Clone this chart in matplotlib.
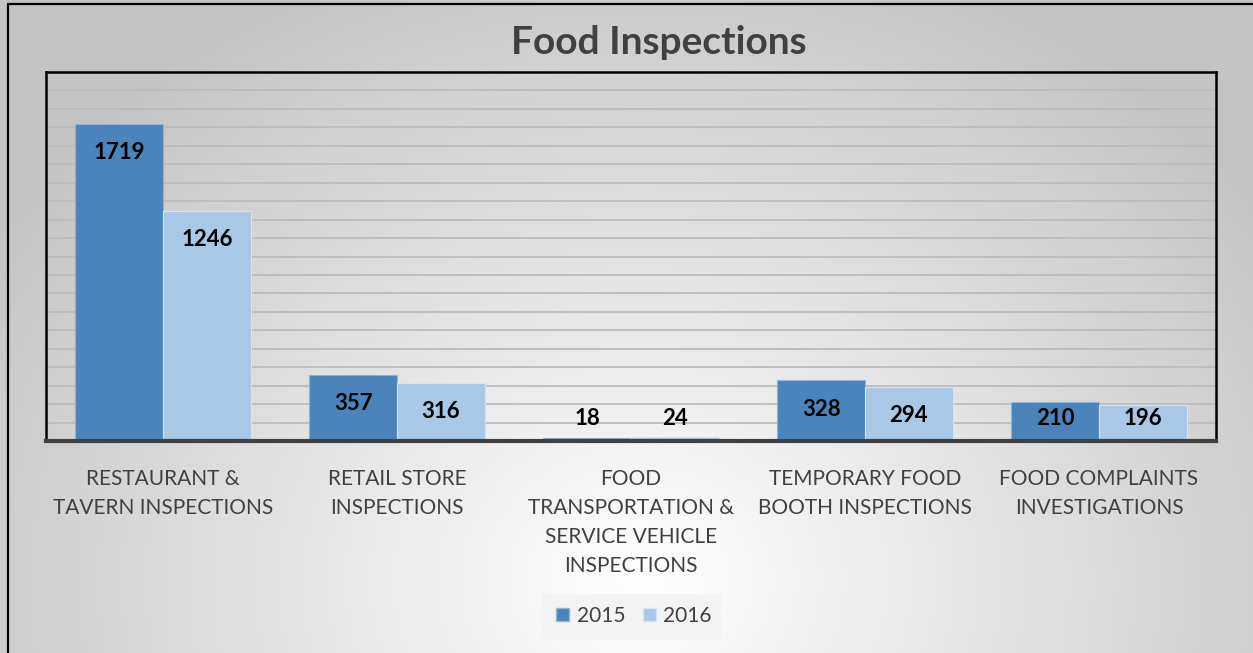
import numpy as np
import matplotlib
matplotlib.use("Agg")
import matplotlib.pyplot as plt
from matplotlib.patches import Rectangle

categories = ["RESTAURANT &\nTAVERN INSPECTIONS", "RETAIL STORE\nINSPECTIONS",
              "FOOD\nTRANSPORTATION &\nSERVICE VEHICLE\nINSPECTIONS",
              "TEMPORARY FOOD\nBOOTH INSPECTIONS", "FOOD COMPLAINTS\nINVESTIGATIONS"]
series_names = ["2015", "2016"]
values_2015 = [1719, 357, 18, 328, 210]
values_2016 = [1246, 316, 24, 294, 196]

plt.rcParams['font.family'] = ['Lato', 'DejaVu Sans']

W, H = 1253, 653
fig = plt.figure(figsize=(W / 100, H / 100), dpi=100)

# radial gradient background
bg = fig.add_axes([0, 0, 1, 1], zorder=-10)
yy, xx = np.mgrid[0:H, 0:W]
cx, cy = 640, 580
r = np.sqrt(((xx - cx) / 1.0) ** 2 + ((yy - cy) * 1.15) ** 2)
r = np.clip(r / 760.0, 0, 1)
val = 1.0 - 0.23 * r
img = np.dstack([val, val, val])
bg.imshow(img, extent=[0, W, H, 0], aspect='auto', interpolation='bilinear')
bg.set_xlim(0, W)
bg.set_ylim(H, 0)
bg.axis('off')
# outer border (top and left)
bg.plot([7, W], [4, 4], color='black', lw=1.6, solid_capstyle='butt')
bg.plot([7.5, 7.5], [4, H], color='black', lw=1.6, solid_capstyle='butt')

ax = fig.add_axes([46 / W, 1 - 441 / H, (1216 - 46) / W, (441 - 72) / H])
ax.patch.set_alpha(0)

x = np.arange(len(categories))
bw = 0.375
dark = '#4a84ba'
light = '#a9c8e5'
ax.bar(x - bw / 2, values_2015, bw, color=dark, edgecolor='#8fb3d6', linewidth=0.8, zorder=3)
ax.bar(x + bw / 2, values_2016, bw, color=light, edgecolor='#d4e4f3', linewidth=0.8, zorder=3)

ax.set_ylim(0, 2000)
ax.set_xlim(-0.5, len(categories) - 0.5)
ax.set_yticks(np.arange(0, 2001, 100))
ax.yaxis.grid(True, color='#bcbcbc', lw=1.3, zorder=1)
ax.tick_params(axis='y', left=False, labelleft=False)
ax.tick_params(axis='x', bottom=False, pad=17)
ax.set_xticks(x)
ax.set_xticklabels(categories, fontsize=15, color='#404040', linespacing=1.55, va='top')

for side in ['left', 'top', 'right']:
    ax.spines[side].set_color('black')
    ax.spines[side].set_linewidth(1.8)
ax.spines['bottom'].set_color('#404040')
ax.spines['bottom'].set_linewidth(3)
ax.spines['bottom'].set_zorder(5)

for xs, vals in [(x - bw / 2, values_2015), (x + bw / 2, values_2016)]:
    for xi, v in zip(xs, vals):
        ax.text(xi, max(v - 155, 122), str(v), ha='center', va='center',
                fontsize=16, fontweight='bold', color='black', zorder=6)

fig.text(659 / W, 1 - 42 / H, "Food Inspections", ha='center', va='center',
         fontsize=28, fontweight='bold', color='#404040')

# legend
bg.add_patch(Rectangle((541, 594), 180, 46, facecolor='#f3f3f3', edgecolor='none', zorder=2))
handles = [Rectangle((0, 0), 1, 1, facecolor=dark, edgecolor='#8fb3d6'),
           Rectangle((0, 0), 1, 1, facecolor=light, edgecolor='#d4e4f3')]
leg = fig.legend(handles, series_names, loc='center', bbox_to_anchor=(634 / W, 1 - 616 / H),
                 ncol=2, frameon=False, fontsize=15, handlelength=0.62, handleheight=0.62,
                 handletextpad=0.35, columnspacing=0.85)
for t in leg.get_texts():
    t.set_color('#404040')

fig.savefig('out.png', dpi=100)
